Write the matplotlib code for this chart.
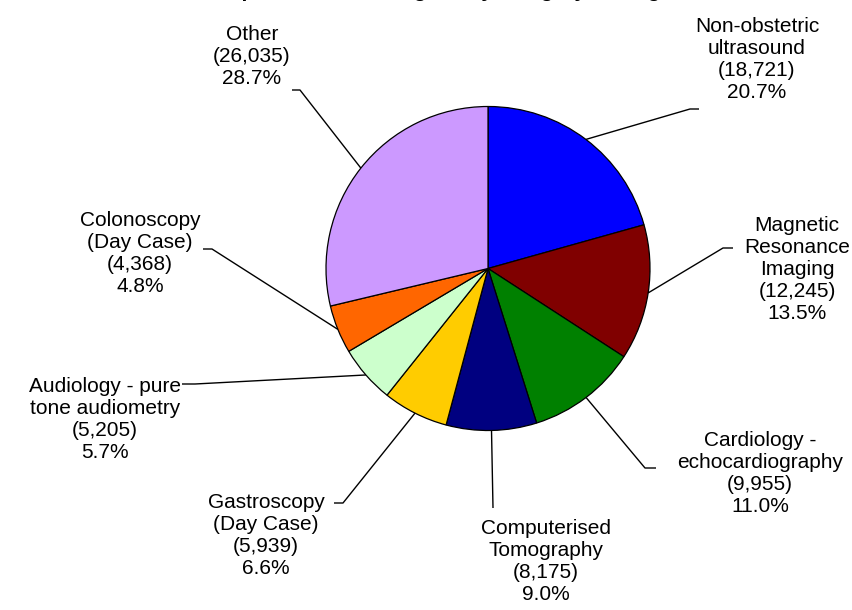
import numpy as np
import matplotlib.pyplot as plt

plt.rcParams['font.family'] = ['Liberation Sans', 'DejaVu Sans']

categories = ["Non-obstetric\nultrasound", "Magnetic\nResonance\nImaging",
              "Cardiology -\nechocardiography", "Computerised\nTomography",
              "Gastroscopy\n(Day Case)", "Audiology - pure\ntone audiometry",
              "Colonoscopy\n(Day Case)", "Other"]
counts = [18721, 12245, 9955, 8175, 5939, 5205, 4368, 26035]
colors = ["#0000FF", "#800000", "#008000", "#000080",
          "#FFCC00", "#CCFFCC", "#FF6600", "#CC99FF"]

# label layout in pixel coords (x, y from top): text centre, elbow, line end
text_pos = [(757, 60), (797, 270), (760, 474), (546, 561),
            (266, 536), (105, 419), (140, 254), (252, 57)]
elbows = [(690, 109), (723, 248), (645, 468), (493, 508),
          (343, 503), (195, 384), (212, 249), (300, 90)]
ends = [(699, 109), (733, 248), (656, 468), (493, 508),
        (334, 503), (182, 384), (203, 249), (292, 90)]

W, H = 853, 610
CX, CY, R = 488, 268.5, 162


def py(y):
    return H - y


fig = plt.figure(figsize=(W / 100, H / 100), dpi=100)
ax = fig.add_axes([0, 0, 1, 1])

wedges, _ = ax.pie(counts, colors=colors, startangle=90, counterclock=False,
                   center=(CX, py(CY)), radius=R,
                   wedgeprops=dict(edgecolor="black", linewidth=0.9))

# pie() resets the limits, so set them afterwards
ax.set_xlim(0, W)
ax.set_ylim(0, H)
ax.set_aspect("equal")
ax.axis("off")

total = sum(counts)
for w, cat, n, tp, el, en in zip(wedges, categories, counts, text_pos, elbows, ends):
    mid = np.radians((w.theta1 + w.theta2) / 2)
    ax0 = CX + R * np.cos(mid)
    ay0 = py(CY) + R * np.sin(mid)
    ax.plot([ax0, el[0], en[0]], [ay0, py(el[1]), py(en[1])],
            color="black", linewidth=1.0, solid_capstyle="butt")
    label = f"{cat}\n({n:,})\n{100 * n / total:.1f}%"
    ax.text(tp[0], py(tp[1]), label, ha="center", va="center",
            fontsize=15, linespacing=1.2, color="black")

# title is mostly cropped off at the top of the image
ax.text(480, py(-3), "Composition of waiting list by category of diagnostic test",
        ha="center", va="baseline", fontsize=15, fontweight="bold", clip_on=False)

fig.savefig("out.png", dpi=100)
